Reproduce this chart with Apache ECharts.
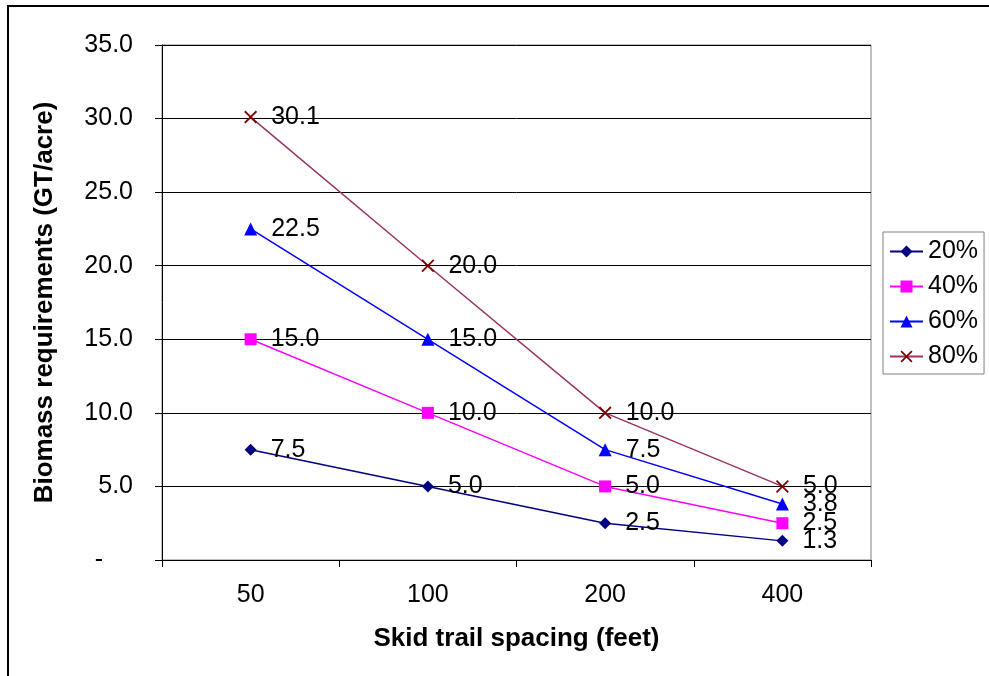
<!DOCTYPE html>
<html>
<head>
<meta charset="utf-8">
<script src="https://cdn.jsdelivr.net/npm/echarts@6/dist/echarts.min.js"></script>
<style>
html,body{margin:0;padding:0;background:#fff;}
#c{width:989px;height:676px;}
</style>
</head>
<body>
<div id="c"></div>
<script>
const categories = ['50', '100', '200', '400'];
const seriesNames = ['20%', '40%', '60%', '80%'];
const s20 = [7.5, 5.0, 2.5, 1.3];
const s40 = [15.0, 10.0, 5.0, 2.5];
const s60 = [22.5, 15.0, 7.5, 3.8];
const s80 = [30.1, 20.0, 10.0, 5.0];
const yTicks = [0, 5, 10, 15, 20, 25, 30, 35];

const FONT = '"Liberation Sans", Arial, sans-serif';
const FS = 25;
const TFS = 26;
const xSymbol = 'path://M0,1L1,0L5,4L9,0L10,1L6,5L10,9L9,10L5,6L1,10L0,9L4,5Z';

function mk(name, data, color, lineColor, symbol, size) {
  return {
    name: name,
    type: 'line',
    data: data,
    symbol: symbol,
    symbolSize: size,
    showAllSymbol: true,
    itemStyle: { color: color },
    lineStyle: { color: lineColor, width: 1.5 },
    emphasis: { disabled: true },
    animation: false,
    label: {
      show: true,
      position: 'right',
      distance: 14,
      fontSize: FS,
      fontFamily: FONT,
      color: '#000',
      formatter: p => p.value.toFixed(1)
    }
  };
}

const chart = echarts.init(document.getElementById('c'));
chart.setOption({
  backgroundColor: '#fff',
  animation: false,
  graphic: [{
    type: 'rect',
    shape: { x: 8, y: 6, width: 1000, height: 700 },
    style: { fill: 'none', stroke: '#000', lineWidth: 2 },
    silent: true
  }],
  grid: {
    left: 162, top: 45, right: 118, bottom: 116,
    show: true, borderColor: '#808080', borderWidth: 1, backgroundColor: 'transparent'
  },
  legend: {
    orient: 'vertical',
    left: 883,
    top: 232,
    width: 106,
    padding: [7, 6, 5, 6],
    itemGap: 10,
    itemWidth: 33,
    itemHeight: 15,
    borderColor: '#808080',
    borderWidth: 1,
    textStyle: { fontSize: FS, fontFamily: FONT, color: '#000' },
    data: seriesNames
  },
  xAxis: {
    type: 'category',
    data: categories,
    boundaryGap: true,
    name: 'Skid trail spacing (feet)',
    nameLocation: 'middle',
    nameGap: 66,
    nameTextStyle: { fontSize: TFS, fontWeight: 'bold', fontFamily: FONT, color: '#000' },
    axisLine: { lineStyle: { color: '#000', width: 1 } },
    axisTick: { show: true, length: 7, lineStyle: { color: '#000' } },
    axisLabel: { fontSize: FS, fontFamily: FONT, color: '#000', margin: 23 },
    splitLine: { show: false }
  },
  yAxis: {
    type: 'value',
    min: yTicks[0],
    max: yTicks[yTicks.length - 1],
    interval: 5,
    name: 'Biomass requirements (GT/acre)',
    nameLocation: 'middle',
    nameGap: 104,
    nameTextStyle: { fontSize: TFS, fontWeight: 'bold', fontFamily: FONT, color: '#000' },
    axisLine: { show: true, lineStyle: { color: '#000', width: 1 } },
    axisTick: { show: true, length: 7, lineStyle: { color: '#000' } },
    axisLabel: {
      fontSize: FS, fontFamily: FONT, color: '#000', margin: 29,
      formatter: v => v === 0 ? '{z|-}' : v.toFixed(1),
      rich: { z: { fontSize: FS, fontFamily: FONT, color: '#000', padding: [0, 30, 0, 0] } }
    },
    splitLine: { show: true, lineStyle: { color: '#000', width: 1 } }
  },
  series: [
    mk(seriesNames[0], s20, '#000080', '#000080', 'diamond', 12),
    mk(seriesNames[1], s40, '#FF00FF', '#FF00FF', 'rect', 12),
    mk(seriesNames[2], s60, '#0000FF', '#0000FF', 'triangle', 13),
    mk(seriesNames[3], s80, '#800000', '#993366', xSymbol, 13)
  ]
});
</script>
</body>
</html>
